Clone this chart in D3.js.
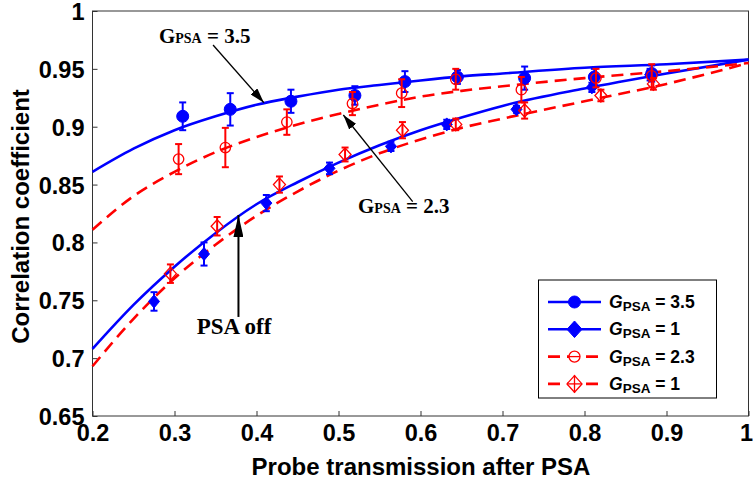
<!DOCTYPE html>
<html>
<head>
<meta charset="utf-8">
<script src="https://cdn.jsdelivr.net/npm/d3@7"></script>
<style>
  body { margin: 0; background: #fff; }
  svg { display: block; }
</style>
</head>
<body>
<svg id="chart" width="753" height="489"></svg>
<script>
// ---- measured data (probe transmission, correlation coefficient, error) ----
const xG35 = [0.310, 0.368, 0.442, 0.520, 0.581, 0.645, 0.727, 0.812, 0.882];
const yG35 = [0.909, 0.915, 0.922, 0.927, 0.939, 0.943, 0.942, 0.943, 0.946];
const eG35 = [0.012, 0.014, 0.010, 0.008, 0.009, 0.006, 0.010, 0.007, 0.007];

const xOffB = [0.275, 0.336, 0.412, 0.489, 0.564, 0.632, 0.717, 0.809, 0.880];
const yOffB = [0.749, 0.790, 0.834, 0.864, 0.883, 0.902, 0.915, 0.934, 0.945];
const eOffB = [0.008, 0.010, 0.007, 0.005, 0.004, 0.004, 0.003, 0.004, 0.005];

const xG23 = [0.305, 0.362, 0.437, 0.517, 0.577, 0.643, 0.723, 0.814, 0.882];
const yG23 = [0.872, 0.882, 0.904, 0.920, 0.929, 0.941, 0.932, 0.942, 0.944];
const eG23 = [0.013, 0.017, 0.011, 0.010, 0.012, 0.009, 0.011, 0.008, 0.010];

const xOffR = [0.295, 0.352, 0.428, 0.508, 0.578, 0.643, 0.727, 0.820, 0.884];
const yOffR = [0.773, 0.814, 0.850, 0.876, 0.897, 0.902, 0.914, 0.927, 0.937];
const eOffR = [0.008, 0.008, 0.007, 0.006, 0.007, 0.005, 0.007, 0.005, 0.005];

// ---- theory curves, sampled along the transmission axis ----
const curveX   = [0.20, 0.25, 0.30, 0.35, 0.40, 0.45, 0.50, 0.55, 0.60, 0.65, 0.70, 0.80, 0.90, 1.00];
const fitG35   = [0.861, 0.881, 0.897, 0.909, 0.919, 0.926, 0.932, 0.936, 0.940, 0.9435, 0.946, 0.951, 0.954, 0.958];
const fitOffB  = [0.708, 0.746, 0.779, 0.808, 0.833, 0.852, 0.869, 0.884, 0.897, 0.908, 0.918, 0.933, 0.946, 0.958];
const fitG23   = [0.811, 0.840, 0.861, 0.878, 0.891, 0.902, 0.911, 0.919, 0.926, 0.931, 0.935, 0.942, 0.948, 0.955];
const fitOffR  = [0.693, 0.734, 0.769, 0.798, 0.823, 0.844, 0.862, 0.877, 0.889, 0.899, 0.907, 0.922, 0.937, 0.955];

// ---- axes ----
const xTicks = [0.2, 0.3, 0.4, 0.5, 0.6, 0.7, 0.8, 0.9, 1];
const yTicks = [0.65, 0.7, 0.75, 0.8, 0.85, 0.9, 0.95, 1];
const xDomain = [0.2, 1];
const yDomain = [0.65, 1];

const legendLabels = ["3.5", "1", "2.3", "1"];

const svg = d3.select("#chart");
const M = { left: 92.5, right: 748.5, top: 11, bottom: 416 };
const x = d3.scaleLinear().domain(xDomain).range([M.left, M.right]);
const y = d3.scaleLinear().domain(yDomain).range([M.bottom, M.top]);

const BLUE = "#0000ff", RED = "#ff0000";
const sansBold = "'Liberation Sans', Arial, Helvetica, sans-serif";
const serif = "'Liberation Serif', 'Times New Roman', serif";

const fmt = v => String(+v.toFixed(2));

// Axes: inward ticks on bottom and left only
const xAxis = d3.axisBottom(x).tickValues(xTicks).tickFormat(fmt).tickSizeInner(-5).tickSizeOuter(0).tickPadding(14);
const yAxis = d3.axisLeft(y).tickValues(yTicks).tickFormat(fmt).tickSizeInner(-5).tickSizeOuter(0).tickPadding(8);

const gx = svg.append("g").attr("transform", `translate(0,${M.bottom})`).call(xAxis);
const gy = svg.append("g").attr("transform", `translate(${M.left},0)`).call(yAxis);
[gx, gy].forEach(g => {
  g.select(".domain").remove();
  g.selectAll(".tick line").attr("stroke", "#333").attr("stroke-width", 1);
  g.selectAll(".tick text")
    .attr("fill", "#000")
    .style("font-family", sansBold)
    .style("font-weight", "bold")
    .style("font-size", "23.5px");
});
gx.selectAll(".tick text").attr("dy", "0.45em");
gy.selectAll(".tick text").attr("dy", "0.36em");
// keep the last x label inside the canvas
gx.selectAll(".tick text").filter(d => d === 1).attr("text-anchor", "end").attr("x", 4);

// Frame
svg.append("rect")
  .attr("x", M.left).attr("y", M.top)
  .attr("width", M.right - M.left).attr("height", M.bottom - M.top)
  .attr("fill", "none").attr("stroke", "#333").attr("stroke-width", 1);

// Axis titles
svg.append("text")
  .attr("x", 421).attr("y", 475)
  .attr("text-anchor", "middle")
  .style("font-family", sansBold).style("font-weight", "bold").style("font-size", "24px")
  .text("Probe transmission after PSA");

svg.append("text")
  .attr("transform", `translate(29,${(M.top + M.bottom) / 2 + 3}) rotate(-90)`)
  .attr("text-anchor", "middle")
  .style("font-family", sansBold).style("font-weight", "bold").style("font-size", "24px")
  .text("Correlation coefficient");

const plot = svg.append("g");

// Theory curves
const line = d3.line().x(d => x(d[0])).y(d => y(d[1])).curve(d3.curveMonotoneX);
function drawCurve(ys, color, dashed) {
  plot.append("path")
    .datum(curveX.map((v, i) => [v, ys[i]]))
    .attr("d", line)
    .attr("fill", "none")
    .attr("stroke", color)
    .attr("stroke-width", 2.6)
    .attr("stroke-dasharray", dashed ? "12,7" : null);
}

// Error bars with caps
function drawErr(xs, ys, es, color) {
  const g = plot.append("g").attr("stroke", color).attr("stroke-width", 2).attr("fill", "none");
  xs.forEach((v, i) => {
    const cx = x(v), t = y(ys[i] + es[i]), b = y(ys[i] - es[i]);
    g.append("line").attr("x1", cx).attr("x2", cx).attr("y1", t).attr("y2", b);
    g.append("line").attr("x1", cx - 3.5).attr("x2", cx + 3.5).attr("y1", t).attr("y2", t);
    g.append("line").attr("x1", cx - 3.5).attr("x2", cx + 3.5).attr("y1", b).attr("y2", b);
  });
}

function diamondPath(cx, cy, hw, hh) {
  return `M${cx},${cy - hh}L${cx + hw},${cy}L${cx},${cy + hh}L${cx - hw},${cy}Z`;
}

function drawMarkers(xs, ys, kind, color, filled) {
  const g = plot.append("g");
  xs.forEach((v, i) => {
    const cx = x(v), cy = y(ys[i]);
    if (kind === "circle") {
      g.append("circle").attr("cx", cx).attr("cy", cy).attr("r", filled ? 6 : 5.2)
        .attr("fill", filled ? color : "none").attr("stroke", color).attr("stroke-width", filled ? 1 : 1.3);
    } else {
      g.append("path").attr("d", diamondPath(cx, cy, filled ? 5.5 : 6, 6.5))
        .attr("fill", filled ? color : "none").attr("stroke", color).attr("stroke-width", filled ? 1 : 1.3);
    }
  });
}

// Series in plotting order
drawCurve(fitG35, BLUE, false);
drawCurve(fitOffB, BLUE, false);
drawCurve(fitG23, RED, true);
drawCurve(fitOffR, RED, true);

drawErr(xG35, yG35, eG35, BLUE);
drawMarkers(xG35, yG35, "circle", BLUE, true);
drawErr(xOffB, yOffB, eOffB, BLUE);
drawMarkers(xOffB, yOffB, "diamond", BLUE, true);
drawMarkers(xG23, yG23, "circle", RED, false);
drawErr(xG23, yG23, eG23, RED);
drawMarkers(xOffR, yOffR, "diamond", RED, false);
drawErr(xOffR, yOffR, eOffR, RED);

// Annotations with arrows
const defs = svg.append("defs");
function arrowMarker(id, w, h) {
  defs.append("marker")
    .attr("id", id).attr("viewBox", `0 0 ${w} ${h}`)
    .attr("refX", w).attr("refY", h / 2)
    .attr("markerWidth", w).attr("markerHeight", h)
    .attr("markerUnits", "userSpaceOnUse")
    .attr("orient", "auto")
    .append("path").attr("d", `M0,0L${w},${h / 2}L0,${h}Z`).attr("fill", "#000");
}
arrowMarker("headThin", 15, 9);
arrowMarker("headBold", 22, 10);

function arrow(x0, y0, x1, y1, width, head) {
  svg.append("line")
    .attr("x1", x(x0)).attr("y1", y(y0)).attr("x2", x(x1)).attr("y2", y(y1))
    .attr("stroke", "#000").attr("stroke-width", width)
    .attr("marker-end", `url(#${head})`);
}

function gLabel(xv, yv, value) {
  const t = svg.append("text").attr("x", x(xv)).attr("y", y(yv))
    .style("font-family", serif).style("font-weight", "bold").attr("fill", "#000");
  t.append("tspan").style("font-size", "21px").text("G");
  t.append("tspan").style("font-size", "14px").text("PSA");
  t.append("tspan").style("font-size", "21px").text(" = " + value);
}

arrow(0.347, 0.9706, 0.409, 0.9208, 1.3, "headThin");
gLabel(0.281, 0.9721, "3.5");

arrow(0.5905, 0.8352, 0.5059, 0.9101, 1.3, "headThin");
gLabel(0.5238, 0.8252, "2.3");

arrow(0.378, 0.7356, 0.378, 0.8237, 2, "headBold");
svg.append("text").attr("x", x(0.327)).attr("y", y(0.7209))
  .style("font-family", serif).style("font-weight", "bold").style("font-size", "23px")
  .text("PSA off");

// Legend
const lg = svg.append("g");
lg.append("rect").attr("x", 538.5).attr("y", 280).attr("width", 178).attr("height", 118)
  .attr("fill", "#fff").attr("stroke", "#000").attr("stroke-width", 1);

const legendRows = [
  { color: BLUE, dashed: false, kind: "circle", filled: true },
  { color: BLUE, dashed: false, kind: "diamond", filled: true },
  { color: RED, dashed: true, kind: "circle", filled: false },
  { color: RED, dashed: true, kind: "diamond", filled: false }
];
legendRows.forEach((r, i) => {
  const cy = 302 + i * 27.3;
  const g = lg.append("g");
  g.append("line").attr("x1", 548).attr("x2", 601).attr("y1", cy).attr("y2", cy)
    .attr("stroke", r.color).attr("stroke-width", 2.6)
    .attr("stroke-dasharray", r.dashed ? "12,7" : null);
  if (r.kind === "circle") {
    g.append("circle").attr("cx", 574.5).attr("cy", cy).attr("r", r.filled ? 6 : 5.5)
      .attr("fill", r.filled ? r.color : "#fff").attr("stroke", r.color).attr("stroke-width", r.filled ? 1 : 1.3);
    if (!r.filled) {
      g.append("line").attr("x1", 569).attr("x2", 580).attr("y1", cy).attr("y2", cy)
        .attr("stroke", r.color).attr("stroke-width", 1.3);
    }
  } else {
    g.append("path").attr("d", diamondPath(574.5, cy, 7.5, 8.3))
      .attr("fill", r.filled ? r.color : "#fff").attr("stroke", r.color).attr("stroke-width", r.filled ? 1 : 1.3);
    if (!r.filled) {
      g.append("line").attr("x1", 567).attr("x2", 582).attr("y1", cy).attr("y2", cy)
        .attr("stroke", r.color).attr("stroke-width", 1.3);
      g.append("line").attr("x1", 574.5).attr("x2", 574.5).attr("y1", cy - 9).attr("y2", cy + 9)
        .attr("stroke", r.color).attr("stroke-width", 1.3);
    }
  }
  const t = g.append("text").attr("x", 609).attr("y", cy + 6)
    .style("font-family", sansBold).style("font-weight", "bold").attr("fill", "#000");
  t.append("tspan").style("font-size", "17.5px").style("font-style", "italic").text("G");
  t.append("tspan").style("font-size", "13.5px").attr("dy", 3).text("PSA");
  t.append("tspan").style("font-size", "17.5px").attr("dy", -3).text(" = " + legendLabels[i]);
});
</script>
</body>
</html>
